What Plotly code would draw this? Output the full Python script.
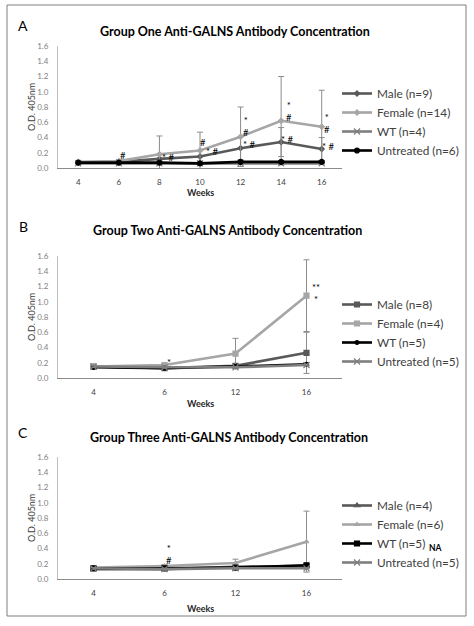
import plotly.graph_objects as go

W, H = 474, 626

# ---------------- data ----------------
weeks_a = ["4", "6", "8", "10", "12", "14", "16"]
male_a = [0.07, 0.08, 0.12, 0.15, 0.26, 0.34, 0.25]
male_a_err = [0.01, 0.01, 0.06, 0.08, 0.15, 0.19, 0.15]
female_a = [0.08, 0.09, 0.18, 0.23, 0.41, 0.62, 0.54]
female_a_err = [0.02, 0.02, 0.24, 0.24, 0.39, 0.58, 0.48]
wt_a = [0.06, 0.06, 0.06, 0.06, 0.06, 0.06, 0.06]
wt_a_err = [0.01, 0.01, 0.01, 0.01, 0.01, 0.01, 0.01]
untr_a = [0.07, 0.07, 0.07, 0.06, 0.08, 0.08, 0.08]
untr_a_err = [0.01, 0.01, 0.01, 0.01, 0.01, 0.01, 0.01]

weeks_b = ["4", "6", "12", "16"]
male_b = [0.15, 0.13, 0.16, 0.33]
male_b_err = [0.02, 0.01, 0.02, 0.27]
female_b = [0.15, 0.17, 0.32, 1.08]
female_b_err = [0.02, 0.02, 0.20, 0.47]
wt_b = [0.14, 0.13, 0.15, 0.18]
wt_b_err = [0.01, 0.01, 0.01, 0.02]
untr_b = [0.15, 0.14, 0.14, 0.17]
untr_b_err = [0.01, 0.01, 0.01, 0.01]

weeks_c = ["4", "6", "12", "16"]
male_c = [0.13, 0.13, 0.16, 0.17]
male_c_err = [0.02, 0.01, 0.02, 0.02]
female_c = [0.15, 0.17, 0.21, 0.49]
female_c_err = [0.02, 0.02, 0.05, 0.40]
wt_c = [0.14, 0.14, 0.15, 0.18]
wt_c_err = [0.01, 0.01, 0.01, 0.02]
untr_c = [0.14, 0.13, 0.14, 0.14]
untr_c_err = [0.01, 0.01, 0.01, 0.01]

names_a = ["Male (n=9)", "Female (n=14)", "WT (n=4)", "Untreated (n=6)"]
names_b = ["Male (n=8)", "Female (n=4)", "WT (n=5)", "Untreated (n=5)"]
names_c = ["Male (n=4)", "Female (n=6)", "WT (n=5)", "Untreated (n=5)"]

titles = ["Group One Anti-GALNS Antibody Concentration",
          "Group Two Anti-GALNS Antibody Concentration",
          "Group Three Anti-GALNS Antibody Concentration"]
panel_letters = ["A", "B", "C"]

# significance marks: (category index position, y value, text)
marks_a = [(1.1, 0.17, "#"), (2.2, 0.14, "* #"), (3.08, 0.33, "#"), (3.3, 0.22, "* #"),
           (4.14, 0.55, "*<br>#"), (4.2, 0.31, "* #"),
           (5.2, 0.74, "*<br>#"), (5.15, 0.38, "* #"),
           (6.13, 0.59, "*<br>#"), (6.16, 0.28, "* #")]
marks_b = [(1.06, 0.20, "*"), (3.14, 1.11, "**<br>*")]
marks_c = [(1.06, 0.32, "*<br>#")]

# ---------------- styling ----------------
C_MALE, C_FEM, C_MID, C_BLK = "#595959", "#a6a6a6", "#7f7f7f", "#000000"
FONT = "Lato"


def px_x(p):
    return p / W


def px_y(p):
    return 1 - p / H


fig = go.Figure()

panels = [
    dict(weeks=weeks_a, series=[
        (names_a[0], male_a, male_a_err, C_MALE, "diamond", 4),
        (names_a[1], female_a, female_a_err, C_FEM, "diamond", 4),
        (names_a[2], wt_a, wt_a_err, C_MID, "x-thin-open", 6),
        (names_a[3], untr_a, untr_a_err, C_BLK, "circle", 5)],
        marks=marks_a, top=46, bot=168, leg_top=79),
    dict(weeks=weeks_b, series=[
        (names_b[0], male_b, male_b_err, C_MALE, "square", 5),
        (names_b[1], female_b, female_b_err, C_FEM, "square", 5),
        (names_b[2], wt_b, wt_b_err, C_BLK, "circle", 4),
        (names_b[3], untr_b, untr_b_err, C_MID, "x-thin-open", 6)],
        marks=marks_b, top=256, bot=378, leg_top=290),
    dict(weeks=weeks_c, series=[
        (names_c[0], male_c, male_c_err, C_MALE, "triangle-up", 5),
        (names_c[1], female_c, female_c_err, C_FEM, "triangle-up", 4),
        (names_c[2], wt_c, wt_c_err, C_BLK, "square", 5),
        (names_c[3], untr_c, untr_c_err, C_MID, "x-thin-open", 6)],
        marks=marks_c, top=457, bot=579, leg_top=491),
]

layout_axes = {}
annotations = []
for i, p in enumerate(panels):
    n = i + 1
    xa = "x" if n == 1 else f"x{n}"
    ya = "y" if n == 1 else f"y{n}"
    leg = "legend" if n == 1 else f"legend{n}"
    for name, vals, err, col, sym, ms in p["series"]:
        fig.add_trace(go.Scatter(
            x=p["weeks"], y=vals, name=name, mode="lines+markers",
            line=dict(color=col, width=2.6),
            marker=dict(symbol=sym, size=ms, color=col, line=dict(color=col, width=1.2)),
            error_y=dict(type="data", array=err, visible=True, color="#8c8c8c",
                         thickness=1, width=3),
            xaxis=xa, yaxis=ya, legend=leg))
    ncat = len(p["weeks"])
    xkey = "xaxis" if n == 1 else f"xaxis{n}"
    ykey = "yaxis" if n == 1 else f"yaxis{n}"
    layout_axes[xkey] = dict(
        type="category", range=[-0.5, ncat - 0.5], domain=[px_x(58), px_x(342)],
        anchor=ya, showline=True, linecolor="#8c8c8c", linewidth=1, automargin=False,
        showgrid=False, zeroline=False, ticks="", ticklabelstandoff=6,
        tickfont=dict(family=FONT, size=8, color="#404040"))
    layout_axes[ykey] = dict(
        range=[0, 1.6], dtick=0.2, tickformat=".1f",
        domain=[px_y(p["bot"]), px_y(p["top"])], anchor=xa, automargin=False,
        showline=True, linecolor="#bfbfbf", linewidth=1,
        showgrid=False, zeroline=False, ticks="", ticklabelstandoff=7,
        tickfont=dict(family=FONT, size=8, color="#808080"))
    layout_axes[leg] = dict(
        x=px_x(337), y=px_y(p["leg_top"]), xanchor="left", yanchor="top",
        bgcolor="rgba(0,0,0,0)", font=dict(family=FONT, size=11.8, color="#404040"),
        itemwidth=30, tracegroupgap=0)
    for (xi, yv, txt) in p["marks"]:
        annotations.append(dict(x=xi, y=yv, xref=xa, yref=ya, text=txt, showarrow=False,
                                xanchor="center", yanchor="middle",
                                font=dict(family=FONT, size=9.5, color="#000000")))

# titles, panel letters, axis titles
title_y = [31, 231, 437]
title_x = [235, 227, 229]
weeks_y = [193, 403, 608]


def paper_note(xp, yp, text, size, color, angle=0):
    return dict(x=px_x(xp), y=px_y(yp), xref="paper", yref="paper", text=text,
                showarrow=False, xanchor="center", yanchor="middle", textangle=angle,
                font=dict(family=FONT, size=size, color=color))


for i in range(3):
    annotations.append(paper_note(title_x[i], title_y[i], f"<b>{titles[i]}</b>", 12.5, "#000000"))
    annotations.append(paper_note(23, title_y[i] - 5, panel_letters[i], 14, "#000000"))
    annotations.append(paper_note(200, weeks_y[i], "<b>Weeks</b>", 9, "#262626"))
    mid = (panels[i]["top"] + panels[i]["bot"]) / 2
    annotations.append(paper_note(31, mid, "O.D. 405nm", 9, "#404040", -90))

annotations.append(paper_note(435, 548, "<b>NA</b>", 8.5, "#000000"))

fig.update_layout(
    width=W, height=H, autosize=False, margin=dict(l=0, r=0, t=0, b=0, pad=0),
    paper_bgcolor="white", plot_bgcolor="white",
    annotations=annotations,
    shapes=[dict(type="rect", xref="paper", yref="paper",
                 x0=px_x(7), x1=px_x(466), y0=px_y(616), y1=px_y(5),
                 line=dict(color="#7f7f7f", width=1))],
    **layout_axes)

fig.write_html("out.html", config={"displayModeBar": False},
               post_script="document.body.style.margin='0';")
